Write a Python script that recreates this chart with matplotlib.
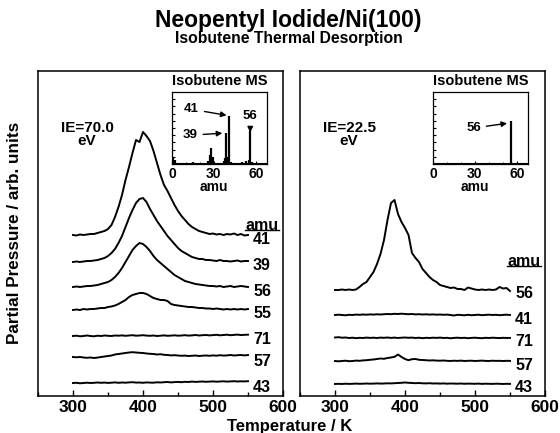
import numpy as np
import matplotlib
matplotlib.use('Agg')
import matplotlib.pyplot as plt

plt.rcParams['font.family'] = ['Liberation Sans', 'DejaVu Sans']
plt.rcParams['font.weight'] = 'bold'

# temperature grid of the TPD traces (K)
temp = np.arange(300, 551, 5)

# IE = 70.0 eV, traces in arbitrary units (top to bottom)
left_masses = ['41', '39', '56', '55', '71', '57', '43']
left_41 = [0, -0.5, 0.5, 0, 0.5, 1, 1, 2, 3, 4,
           6, 10, 18, 28, 40, 55, 68, 82, 95, 93,
           103, 99, 94, 84, 72, 60, 50, 44, 37, 30,
           24, 19, 15, 11, 8, 6, 4, 3, 2, 1,
           1.5, 0.5, 1, 0, 1, 0.5, 1.5, 0, 1, -0.5,
           0]
left_39 = [0, 0.5, 0, 0.5, 1, 1, 1.5, 2, 3, 4,
           6, 9, 13, 19, 26, 35, 44, 52, 59, 63,
           64, 60, 53, 47, 41, 36, 31, 26, 22, 18,
           14, 11, 9, 7, 5, 4, 3, 3, 2, 2,
           1.5, 1, 2, 1, 1, 0.5, 1, 1.5, 0.5, 1,
           1]
left_56 = [0, 0.5, 0, 0.5, 1, 1, 1.5, 2, 3, 4,
           5, 7, 10, 14, 19, 25, 31, 37, 41, 44,
           43, 40, 36, 31, 27, 24, 21, 18, 15, 12,
           10, 8, 6, 5, 4, 3, 2.5, 2, 1.5, 1,
           1, 0.5, 1, 0, 0.5, 1, 0, 0.5, 1, 0.5,
           0]
left_55 = [0, 0.5, 0, 1, 0.5, 1, 1, 1.5, 2, 2,
           3, 3.5, 4.5, 6, 8, 10, 13, 15, 16, 17,
           17, 16, 14, 12, 11, 10, 10, 9, 6, 5,
           4.5, 4, 3.5, 3, 3, 2.5, 2, 2, 1.5, 1.5,
           1, 1.5, 1, 0.5, 1, 0.5, 1, 0.5, 1, 0.5,
           1]
left_71 = [0, 0.3, -0.3, 0, 0.5, 0, -0.3, 0.3, 0, 0.5,
           0.2, 0, 0.5, 0.3, 0.6, 0.2, 0.5, 0.8, 0.3, 0.5,
           0.8, 0.4, 0.2, 0.5, 0, 0.3, 0.6, 0.2, 0.4, 0.7,
           0.3, 0.5, 0.8, 0.4, 0.6, 1, 0.5, 0.8, 1, 0.6,
           0.9, 1.2, 0.7, 1, 1.3, 0.8, 1.1, 1.4, 0.9, 1.2,
           1.3]
left_57 = [0, -0.3, 0, -0.5, -0.8, -0.5, -1, -0.6, 0, 0.5,
           1, 1.5, 2.5, 3, 3.5, 4, 4.5, 4.8, 4.5, 4.2,
           4, 3.5, 3.2, 3, 2.5, 2.8, 2.2, 2, 1.6, 1.8,
           1.5, 1.2, 1.4, 1, 1.2, 1.5, 1, 1.3, 1.5, 1.2,
           1.6, 1.3, 1.8, 1.4, 1.6, 2, 1.5, 1.8, 2, 1.6,
           2]
left_43 = [0, 0.2, -0.3, 0, 0.3, 0, 0.2, 0.5, 0.2, 0.4,
           0.1, 0.3, 0.6, 0.2, 0.5, 0.3, 0.6, 0.8, 0.4, 0.5,
           0.2, 0.6, 0.4, 0.3, 0.7, 0.5, 0.8, 1, 0.6, 0.9,
           1.1, 0.8, 1.2, 1, 1.4, 1.1, 1.3, 1.5, 1.2, 1.4,
           1.6, 1.3, 1.5, 1.7, 1.4, 1.6, 1.8, 1.5, 1.7, 1.6,
           1.8]
left_offsets = [161, 134, 109, 86, 60, 39, 13]

# IE = 22.5 eV
right_masses = ['56', '41', '71', '57', '43']
right_56 = [0, 0, 0.5, 0, 0.5, 0, 0.5, 3, 6, 8,
            13, 18, 26, 36, 50, 70, 87, 90, 76, 68,
            62, 55, 37, 32, 28, 21, 17, 13, 10, 8,
            5, 4, 3, 2, 2.5, 1, 1, 0, 2.5, 1.5,
            0.5, 0, 0.5, 0, 0.5, 0, 0.5, 3, 1.5, 2,
            -1]
right_41 = [0, 0.3, 0, -0.3, 0.2, 0, 0.4, 0.2, 0.5, 0.3,
            0.6, 0.4, 0.7, 0.5, 0.8, 1, 0.8, 1.2, 1, 1.3,
            1, 0.8, 1, 0.6, 0.8, 0.5, 0.7, 0.4, 0.6, 0.3,
            0.5, 0.2, 0.4, 0, -0.5, 0.2, 0, -0.3, 0.2, -0.2,
            0, 0.3, -0.2, 0.1, 0.3, 0, 0.2, -0.2, 0.1, 0.3,
            0]
right_71 = [0.5, 0.8, 0.3, 0.5, 0, 0.3, -0.2, 0.2, 0, 0.4,
            0.1, 0.3, 0, 0.4, 0.2, 0.5, 0.1, 0.4, 0, 0.3,
            0.5, 0.2, 0.4, 0, 0.3, -0.2, 0.2, 0, 0.3, 0.1,
            0.4, 0, 0.2, -0.3, 0.1, 0.3, 0, 0.2, -0.2, 0.1,
            0.3, 0, -0.2, 0.2, 0, 0.3, 0.1, -0.1, 0.2, 0,
            0.1]
right_57 = [0, -0.3, 0, 0.3, -0.2, 0, 0.4, 0.2, 0.6, 0.8,
            1.2, 1.5, 2, 2.5, 2.2, 3, 3.5, 4.2, 6.5, 4,
            2, 0.8, 1.8, 2, 1.2, 1, 0.8, 0.5, 0.7, 0.4,
            0.3, 0.5, 0.2, 0, 0.3, 0.1, 0.4, 0, 0.2, 0.3,
            0, 0.2, 0.4, 0.1, 0, 0.3, 0.1, 0.2, 0, 0.2,
            0.1]
right_43 = [0, 0.2, 0, 0.3, 0.1, 0.2, 0.4, 0.2, 0.3, 0.5,
            0.3, 0.4, 0.6, 0.4, 0.5, 0.7, 0.6, 0.8, 1, 1.2,
            1.5, 1.2, 1, 0.8, 1, 0.7, 0.6, 0.8, 0.5, 0.6,
            0.4, 0.6, 0.3, 0.5, 0.4, 0.3, 0.5, 0.2, 0.4, 0.3,
            0.2, 0.4, 0.1, 0.3, 0.2, 0.1, 0.3, 0.2, 0, 0.2,
            0.1]
right_offsets = [106, 81, 58, 35, 12]

# isobutene mass spectra (insets)
ms70_mass = [1, 2, 14, 15, 26, 27, 28, 29, 37, 38, 39, 40, 41, 42, 50, 51, 53, 55, 56, 57]
ms70_int = [0.10, 0.05, 0.02, 0.03, 0.04, 0.12, 0.22, 0.10, 0.04, 0.08,
            0.43, 0.10, 0.67, 0.03, 0.03, 0.02, 0.04, 0.06, 0.46, 0.03]
ms22_mass = [56]
ms22_int = [0.60]

left_traces = [left_41, left_39, left_56, left_55, left_71, left_57, left_43]
right_traces = [right_56, right_41, right_71, right_57, right_43]

fig = plt.figure(figsize=(5.6, 4.33), dpi=100)
W, H = 560.0, 433.0

def px_axes(x0, y0, x1, y1):
    return fig.add_axes([x0 / W, 1 - y1 / H, (x1 - x0) / W, (y1 - y0) / H])

ax_l = px_axes(38, 71, 283, 396)
ax_r = px_axes(300, 71, 545, 396)

def setup_panel(ax, traces, offsets, masses, amu_y, ie_text):
    for tr, off, m in zip(traces, offsets, masses):
        ax.plot(temp, np.array(tr) + off, color='black', lw=1.4)
        ax.text(570, off - 4, m, ha='center', va='center', fontsize=11.5, fontweight='bold')
    t = ax.text(570, amu_y, 'amu', ha='center', va='center', fontsize=11.5, fontweight='bold')
    ax.set_xlim(250, 600)
    ax.set_ylim(0, 325)
    ax.set_xticks([300, 400, 500, 600])
    ax.set_xticks([250, 350, 450, 550], minor=True)
    ax.set_yticks([])
    ax.tick_params(axis='x', which='both', direction='in', length=4, width=1,
                   labelsize=12.5, pad=3)
    ax.tick_params(axis='x', which='minor', length=3)
    for lab in ax.get_xticklabels():
        lab.set_fontweight('bold')
    for s in ax.spines.values():
        s.set_linewidth(1.1)
    ax.text(0.2, 0.805, ie_text, transform=ax.transAxes, ha='center', va='center',
            fontsize=11, fontweight='bold', linespacing=0.95)
    return t

t_l = setup_panel(ax_l, left_traces, left_offsets, left_masses, 171, 'IE=70.0\neV')
t_r = setup_panel(ax_r, right_traces, right_offsets, right_masses, 135, 'IE=22.5\neV')

def inset(x0, mass, inten):
    ax = px_axes(x0, 92, x0 + 95, 164)
    ax.vlines(mass, 0, inten, color='black', lw=1.6)
    ax.axhline(0.005, color='black', lw=1.5)
    ax.set_xlim(0, 68)
    ax.set_ylim(0, 1)
    ax.set_xticks([0, 30, 60])
    ax.set_xticks([10, 20, 40, 50], minor=True)
    ax.set_yticks(np.linspace(0.1, 0.9, 9))
    ax.set_yticklabels([])
    ax.tick_params(direction='in', length=2, width=0.8, labelsize=10, pad=2)
    ax.tick_params(which='minor', direction='in', length=1.5)
    for lab in ax.get_xticklabels():
        lab.set_fontweight('bold')
    for s in ax.spines.values():
        s.set_linewidth(0.9)
    ax.set_title('Isobutene MS', fontsize=10.5, fontweight='bold', pad=5)
    ax.text(30, -0.32, 'amu', ha='center', va='center', fontsize=10, fontweight='bold')
    return ax

in_l = inset(172, ms70_mass, ms70_int)
in_r = inset(433, ms22_mass, ms22_int)

arrow = dict(arrowstyle='-|>', color='black', lw=1.0, mutation_scale=8)
in_l.annotate('41', xy=(41, 0.67), xytext=(14, 0.76), fontsize=9.5, fontweight='bold',
              ha='center', va='center', arrowprops=arrow)
in_l.annotate('39', xy=(38, 0.43), xytext=(13, 0.40), fontsize=9.5, fontweight='bold',
              ha='center', va='center', arrowprops=arrow)
in_l.annotate('56', xy=(56, 0.40), xytext=(56, 0.66), fontsize=9.5, fontweight='bold',
              ha='center', va='center', arrowprops=arrow)
in_r.annotate('56', xy=(55, 0.57), xytext=(29, 0.50), fontsize=9.5, fontweight='bold',
              ha='center', va='center', arrowprops=arrow)

fig.text(0.515, 1 - 20 / H, 'Neopentyl Iodide/Ni(100)', ha='center', va='center',
         fontsize=16.5, fontweight='bold')
fig.text(0.515, 1 - 38 / H, 'Isobutene Thermal Desorption', ha='center', va='center',
         fontsize=11.3, fontweight='bold')
fig.text(15 / W, 1 - 233 / H, 'Partial Pressure / arb. units', rotation=90,
         ha='center', va='center', fontsize=12.3, fontweight='bold')
fig.text(0.518, 1 - 426 / H, 'Temperature / K', ha='center', va='center',
         fontsize=12, fontweight='bold')

# underline the "amu" headers
fig.canvas.draw()
r = fig.canvas.get_renderer()
for ax, t in [(ax_l, t_l), (ax_r, t_r)]:
    bb = t.get_window_extent(r).transformed(ax.transData.inverted())
    ax.plot([bb.x0, bb.x1], [bb.y0 + 2.5, bb.y0 + 2.5], color='black', lw=1.0)

fig.savefig('out.png', dpi=100)
